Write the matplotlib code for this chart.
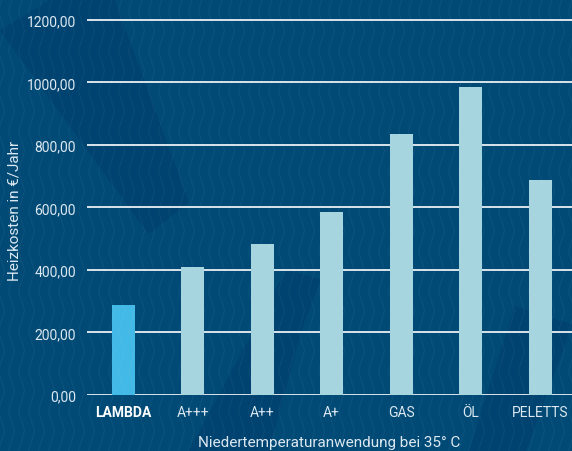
import numpy as np
import matplotlib.pyplot as plt
from matplotlib.lines import Line2D
from matplotlib.patches import Polygon

categories = ['LAMBDA', 'A+++', 'A++', 'A+', 'GAS', 'ÖL', 'PELETTS']
kosten = [288, 410, 483, 586, 835, 986, 688]
yticks = [0, 200, 400, 600, 800, 1000, 1200]
ytick_labels = ['0,00', '200,00', '400,00', '600,00', '800,00', '1000,00', '1200,00']

bg = '#014a76'
text_col = '#dce8f0'
bar_cols = ['#42b9e6'] + ['#a6d4df'] * 6

plt.rcParams['font.family'] = ['Liberation Sans Narrow', 'Roboto', 'DejaVu Sans']

fig = plt.figure(figsize=(5.72, 4.52), dpi=100, facecolor=bg)

# dunklere diagonale Baender im Hintergrund
bands = [
    [(0.0, 0.93), (0.09, 1.0), (0.20, 1.0), (0.33, 0.55), (0.26, 0.48)],
    [(0.33, 0.0), (0.45, 0.0), (0.56, 0.38), (0.50, 0.40)],
    [(0.45, 0.30), (0.53, 0.28), (0.47, 0.0), (0.40, 0.0)],
    [(0.82, 0.0), (0.92, 0.0), (1.0, 0.28), (0.95, 0.30), (0.90, 0.32)],
]
for b in bands:
    fig.add_artist(Polygon(b, closed=True, transform=fig.transFigure,
                           facecolor='#004370', edgecolor='none', zorder=0))

# Zickzack-Muster
period = 40 / 452
amp = 6 / 572
for x0 in np.arange(-0.02, 1.02, 10 / 572):
    ys = np.arange(-period, 1 + period, period / 2)
    xs = [x0 + (amp if i % 2 else 0) for i in range(len(ys))]
    fig.add_artist(Line2D(xs, ys, transform=fig.transFigure, color='#ffffff',
                          alpha=0.05, lw=0.7, zorder=0.5))

ax = fig.add_axes([87 / 572, 56 / 452, 485 / 572, 386 / 452])
ax.set_facecolor('none')

x = np.arange(len(categories))
ax.bar(x, kosten, width=0.33, color=bar_cols, zorder=3)

ax.set_xlim(-0.52, 6.46)
ax.set_ylim(0, 1235)
ax.set_yticks(yticks)
ax.set_yticklabels(ytick_labels)
ax.set_xticks(x)
ax.set_xticklabels(categories)
ax.grid(axis='y', color='white', lw=1.2, zorder=1)
ax.set_axisbelow(True)
for s in ax.spines.values():
    s.set_visible(False)
ax.tick_params(length=0, colors=text_col, labelsize=10)
ax.tick_params(axis='y', pad=8)
ax.tick_params(axis='x', pad=7)
ax.get_xticklabels()[0].set_fontweight('bold')
ax.get_xticklabels()[0].set_color('white')

ax.set_xlabel('Niedertemperaturanwendung bei 35° C', color=text_col,
              fontsize=11, family=['Roboto', 'DejaVu Sans'], labelpad=12)
ax.set_ylabel('Heizkosten in €/Jahr', color=text_col, fontsize=11,
              family=['Roboto', 'DejaVu Sans'])
ax.yaxis.set_label_coords(-0.135, 0.48)

fig.savefig('out.png', dpi=100, facecolor=bg)
